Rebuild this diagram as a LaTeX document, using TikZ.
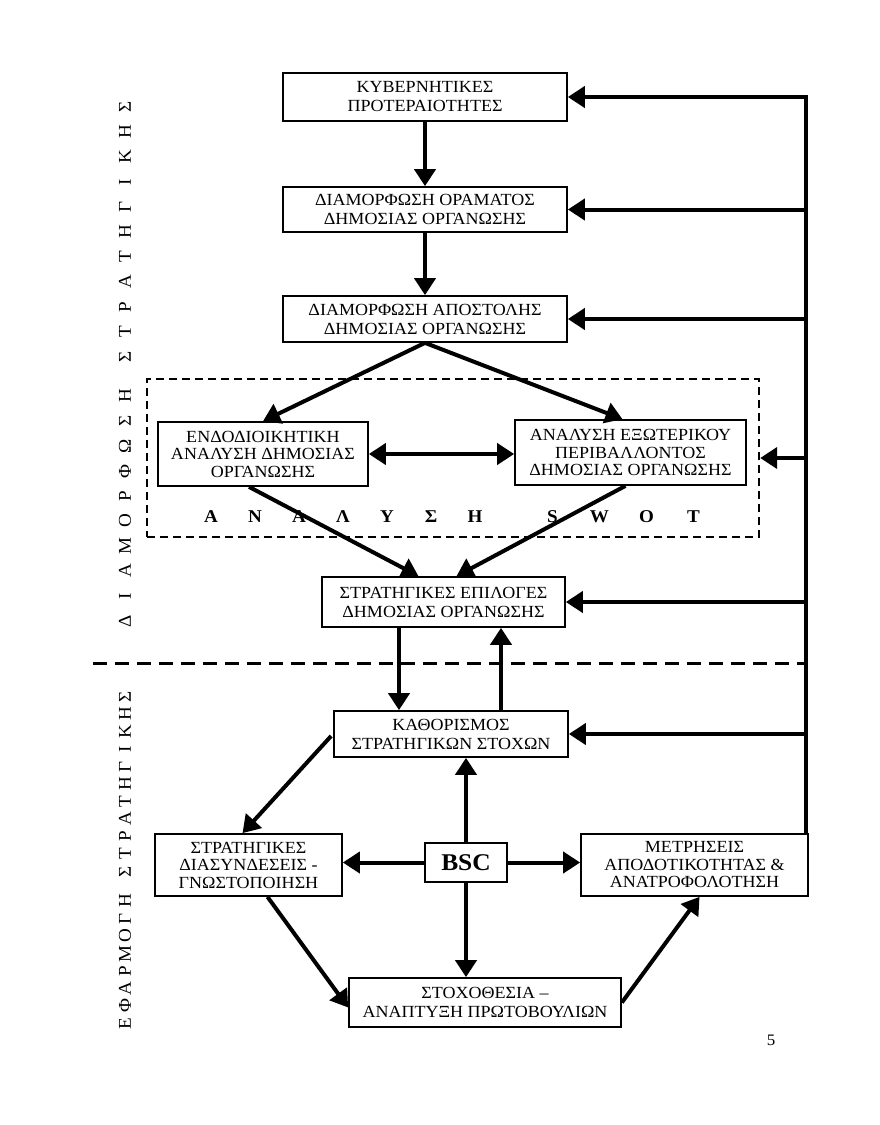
\documentclass[tikz,border=0pt]{standalone}
\usepackage{fontspec}
\setmainfont{Liberation Serif}[FakeStretch=1.06]
\usetikzlibrary{arrows.meta,calc}
\newlength\myptch
\def\myspaced#1{\ifx#1\relax\else\makebox[\myptch]{#1}\expandafter\myspaced\fi}
\begin{document}
\begin{tikzpicture}[x=1pt,y=-1pt,
  box/.style={draw,line width=1.7pt,align=center,inner sep=0pt,font=\fontsize{17}{19}\selectfont},
  arr/.style={line width=4pt,-{Triangle[length=17pt,width=21pt]}},
  dbl/.style={line width=4pt,{Triangle[length=17pt,width=21pt]}-{Triangle[length=17pt,width=21pt]}},
  side/.style={rotate=90,font=\fontsize{18}{20}\selectfont,inner sep=0pt}]
\useasboundingbox (0,0) rectangle (880,1125);
% dashed SWOT frame
\node[draw,dashed,dash pattern=on 8pt off 5pt,line width=2.4pt,minimum width=612pt,minimum height=158pt,inner sep=0pt] (swot) at (453,458) {};
\node[font=\bfseries\fontsize{18}{20}\selectfont,inner sep=0pt] (swottxt) at (453,517)
  {\setlength\myptch{44pt}\myspaced ΑΝΑΛΥΣΗ\relax\hspace{32pt}\setlength\myptch{47pt}\myspaced SWOT\relax};
% boxes
\node[box,minimum width=284pt,minimum height=48pt] (b1) at (425,97) {ΚΥΒΕΡΝΗΤΙΚΕΣ\\ΠΡΟΤΕΡΑΙΟΤΗΤΕΣ};
\node[box,minimum width=284pt,minimum height=45pt] (b2) at (425,209.5) {ΔΙΑΜΟΡΦΩΣΗ ΟΡΑΜΑΤΟΣ\\ΔΗΜΟΣΙΑΣ ΟΡΓΑΝΩΣΗΣ};
\node[box,minimum width=284pt,minimum height=46pt] (b3) at (425,319) {ΔΙΑΜΟΡΦΩΣΗ ΑΠΟΣΤΟΛΗΣ\\ΔΗΜΟΣΙΑΣ ΟΡΓΑΝΩΣΗΣ};
\node[box,minimum width=210pt,minimum height=64pt,font=\fontsize{17}{17.5}\selectfont] (b4) at (263,454) {ΕΝΔΟΔΙΟΙΚΗΤΙΚΗ\\ΑΝΑΛΥΣΗ ΔΗΜΟΣΙΑΣ\\ΟΡΓΑΝΩΣΗΣ};
\node[box,minimum width=231pt,minimum height=65pt,font=\fontsize{17}{17.5}\selectfont] (b5) at (630.5,452.5) {ΑΝΑΛΥΣΗ ΕΞΩΤΕΡΙΚΟΥ\\ΠΕΡΙΒΑΛΛΟΝΤΟΣ\\ΔΗΜΟΣΙΑΣ ΟΡΓΑΝΩΣΗΣ};
\node[box,minimum width=243pt,minimum height=50pt] (b6) at (443.5,602) {ΣΤΡΑΤΗΓΙΚΕΣ ΕΠΙΛΟΓΕΣ\\ΔΗΜΟΣΙΑΣ ΟΡΓΑΝΩΣΗΣ};
\node[box,minimum width=234pt,minimum height=46pt] (b7) at (451,734) {ΚΑΘΟΡΙΣΜΟΣ\\ΣΤΡΑΤΗΓΙΚΩΝ ΣΤΟΧΩΝ};
\node[box,minimum width=187pt,minimum height=62pt,font=\fontsize{17}{17.5}\selectfont] (b8) at (248.5,865) {ΣΤΡΑΤΗΓΙΚΕΣ\\ΔΙΑΣΥΝΔΕΣΕΙΣ -\\ΓΝΩΣΤΟΠΟΙΗΣΗ};
\node[box,minimum width=82pt,minimum height=39pt,font=\bfseries\fontsize{24}{26}\selectfont] (b9) at (466,862.5) {BSC};
\node[box,minimum width=227pt,minimum height=62pt,font=\fontsize{17}{17.5}\selectfont] (b10) at (694.5,865) {ΜΕΤΡΗΣΕΙΣ\\ΑΠΟΔΟΤΙΚΟΤΗΤΑΣ \&\\ΑΝΑΤΡΟΦΟΛΟΤΗΣΗ};
\node[box,minimum width=272pt,minimum height=49pt] (b11) at (485,1002.5) {ΣΤΟΧΟΘΕΣΙΑ –\\ΑΝΑΠΤΥΞΗ ΠΡΩΤΟΒΟΥΛΙΩΝ};
% side labels
\node[side] (lab1) at (125,364) {\setlength\myptch{25pt}\myspaced ΔΙΑΜΟΡΦΩΣΗ\relax\hspace{14pt}\myspaced ΣΤΡΑΤΗΓΙΚΗΣ\relax};
\node[side] (lab2) at (125,860) {\setlength\myptch{17.5pt}\myspaced ΕΦΑΡΜΟΓΗ\relax\hspace{12pt}\myspaced ΣΤΡΑΤΗΓΙΚΗΣ\relax};
% dashed separator
\coordinate (sepL) at (93,663);
\coordinate (sepR) at (806,663);
\draw[line width=3pt,dash pattern=on 14pt off 8pt] (sepL) -- (sepR);
% page number
\node[font=\fontsize{16}{18}\selectfont] (pg) at (771,1040) {5};
% vertical chain
\draw[arr] (b1) -- (b2);
\draw[arr] (b2) -- (b3);
\draw[arr] (b3.south) -- (b4.north);
\draw[arr] (b3.south) -- ([xshift=-8pt]b5.north);
\draw[dbl] (b4.east) -- (b4.east -| b5.west);
\draw[arr] ([xshift=-14pt]b4.south) -- ([xshift=-25pt]b6.north);
\draw[arr] ([xshift=-5pt]b5.south) -- ([xshift=13pt]b6.north);
\coordinate (dn) at (399,0);
\coordinate (up) at (501,0);
\draw[arr] (dn |- b6.south) -- (dn |- b7.north);
\draw[arr] (up |- b7.north) -- (up |- b6.south);
\draw[arr] ([xshift=-2pt,yshift=-2pt]b7.west) -- ([xshift=-6pt]b8.north);
\draw[arr] (b9.north) -- (b9.north |- b7.south);
\draw[arr] (b9.south) -- (b9.south |- b11.north);
\draw[arr] (b9.west) -- (b9.west -| b8.east);
\draw[arr] (b9.east) -- (b9.east -| b10.west);
\draw[arr] ([xshift=19pt]b8.south) -- ([yshift=-5pt]b11.west);
\draw[arr] (b11.east) -- ([xshift=5pt]b10.south);
% feedback bus
\coordinate (bus) at (806,95);
\draw[line width=4pt] (bus) -- (bus |- b10.north);
\foreach \n in {b1,b2,b3,swot,b6,b7}
  \draw[arr] (bus |- \n.east) -- (\n.east);
\end{tikzpicture}
\end{document}
